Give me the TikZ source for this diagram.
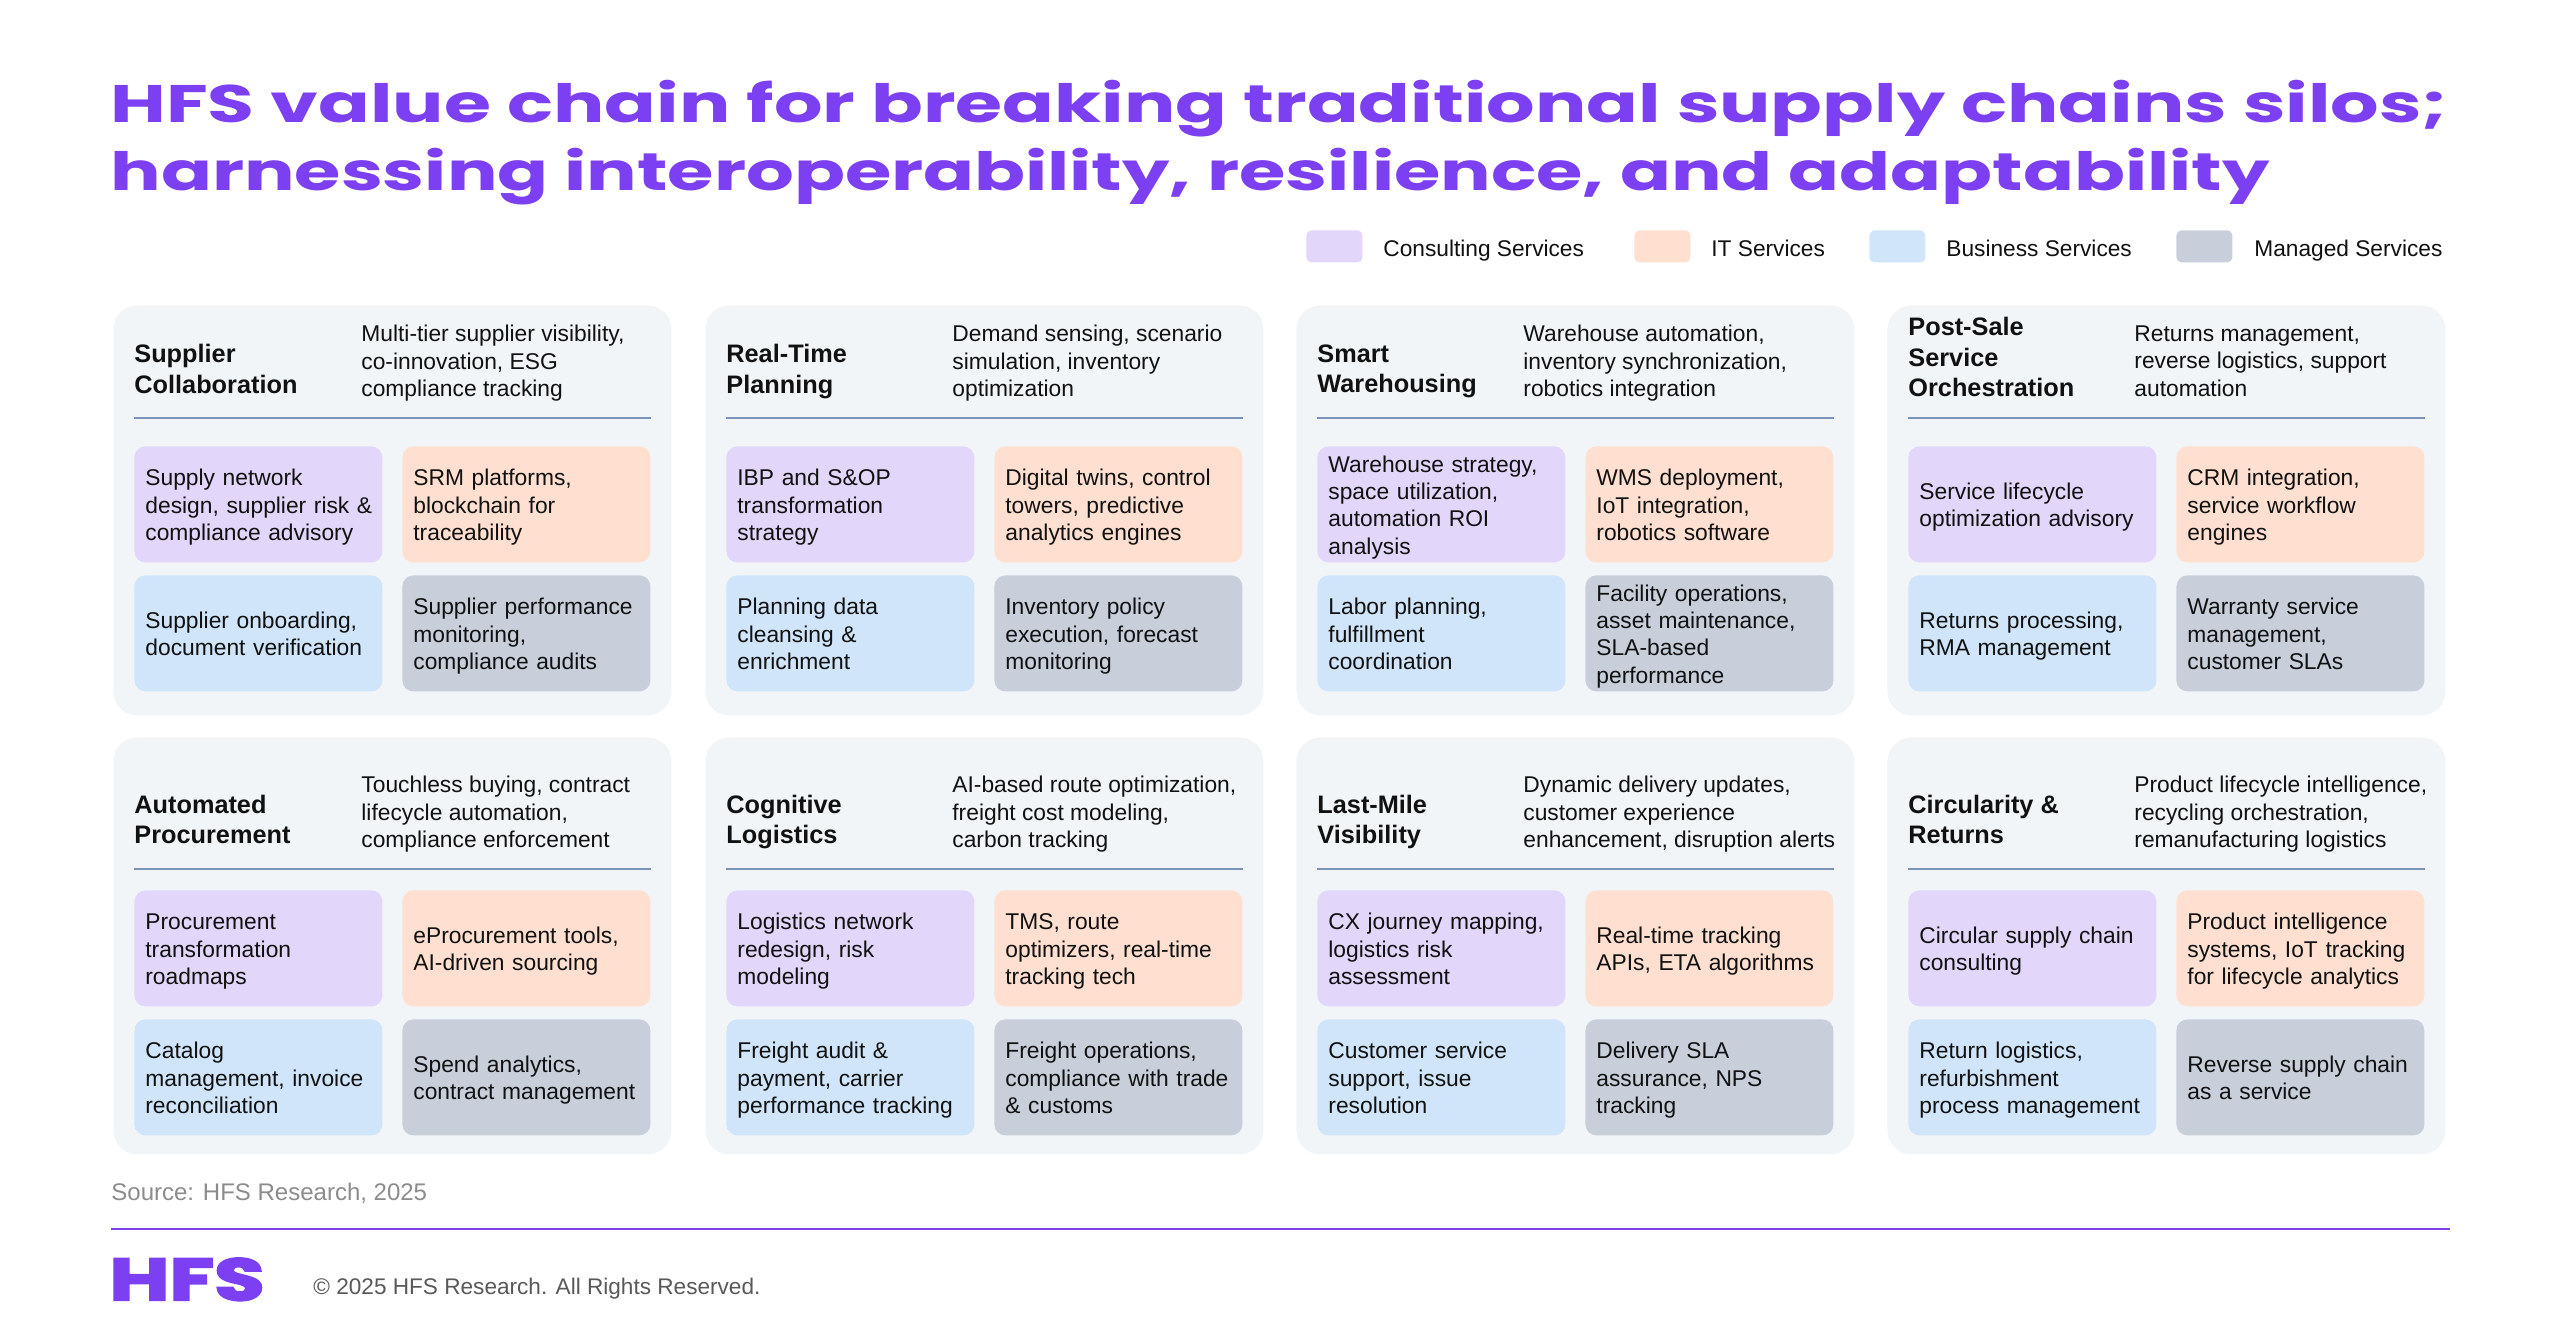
\documentclass[tikz,border=0pt]{standalone}
\usepackage{fontspec}
\setmainfont{Liberation Sans}
\newfontfamily\titlefonta[FakeStretch=1.444]{Poppins}
\newfontfamily\titlefontb[FakeStretch=1.4225]{Poppins}
\newfontfamily\logofont[FakeStretch=1.4,FakeBold=4]{Poppins}
\definecolor{hfspurple}{HTML}{7C3FF2}
\definecolor{cardbg}{HTML}{F2F5F8}
\definecolor{consult}{HTML}{E2D6FA}
\definecolor{itserv}{HTML}{FFDFD0}
\definecolor{bizserv}{HTML}{D0E5FA}
\definecolor{mgdserv}{HTML}{C8CFDB}
\definecolor{sepline}{HTML}{7A93B8}
\definecolor{inktext}{HTML}{111111}
\tikzset{
  cardpanel/.style={anchor=north west,fill=cardbg,rounded corners=12pt,minimum width=279pt,inner sep=0pt},
  svcbox/.style={anchor=north west,rounded corners=5.5pt,minimum width=124pt,minimum height=58pt,
    text width=113pt,inner xsep=5.5pt,inner ysep=0pt,align=left,text=inktext,
    font=\fontsize{11.4}{13.7}\selectfont,
    execute at begin node={\rule{0pt}{11.15pt}},execute at end node={\rule[-2.45pt]{0pt}{2.45pt}}},
  cardtitle/.style={anchor=west,inner sep=0pt,align=left,text=inktext,font=\fontsize{12.65}{15.25}\selectfont\bfseries,
    execute at begin node={\rule{0pt}{12pt}},execute at end node={\rule[-3.2pt]{0pt}{3.2pt}}},
  carddesc/.style={anchor=west,inner sep=0pt,align=left,text=inktext,font=\fontsize{11.4}{13.7}\selectfont,
    execute at begin node={\rule{0pt}{11.15pt}},execute at end node={\rule[-2.45pt]{0pt}{2.45pt}}},
  sepstroke/.style={draw=sepline,line width=.7pt},
  legendswatch/.style={anchor=north west,rounded corners=2.5pt,minimum width=28pt,minimum height=16pt,inner sep=0pt},
  legendtext/.style={anchor=base west,inner sep=0pt,text=inktext,font=\fontsize{11.35}{13.6}\selectfont},
  titleline/.style={anchor=base west,inner sep=0pt,text=hfspurple},
}
\newcommand{\rowone}{\def\ctop{305}\def\cheight{205pt}\def\liney{418}\def\descy{363.5}\def\boxa{446}\def\boxb{575}}
\newcommand{\rowtwo}{\def\ctop{737}\def\cheight{208.5pt}\def\liney{869}\def\descy{814.5}\def\boxa{890}\def\boxb{1019}}
% id, x, title y, title, desc x, desc
\newcommand{\hfshead}[6]{%
  \node[cardpanel,minimum height=\cheight] (#1-card) at (#2,\ctop) {};
  \begin{scope}[shift={(#2,0)}]
    \coordinate (#1-l) at (21,\liney);
    \coordinate (#1-r) at (538,\liney);
    \draw[sepstroke] (#1-l) -- (#1-r);
    \node[cardtitle] (#1-title) at (21,#3) {#4};
    \node[carddesc] (#1-desc) at (#5,\descy) {#6};
  \end{scope}}
% id, x, four boxes
\newcommand{\hfsboxes}[6]{%
  \begin{scope}[shift={(#2,0)}]
    \node[svcbox,fill=consult] (#1-a) at (21,\boxa) {#3};
    \node[svcbox,fill=itserv] (#1-b) at (289,\boxa) {#4};
    \node[svcbox,fill=bizserv] (#1-c) at (21,\boxb) {#5};
    \node[svcbox,fill=mgdserv] (#1-d) at (289,\boxb) {#6};
  \end{scope}}
\begin{document}
\begin{tikzpicture}[x=0.5pt,y=-0.5pt]
\useasboundingbox[fill=white] (0,0) rectangle (2560,1337);
\node[titleline,font=\fontsize{26.4}{32}\titlefonta\bfseries] (t1) at (110,123) {HFS value chain for breaking traditional supply chains silos;};
\node[titleline,font=\fontsize{26.4}{32}\titlefontb\bfseries] (t2) at (110,191) {harnessing interoperability, resilience, and adaptability};
% legend
\node[legendswatch,fill=consult] (l1) at (1306,230) {};
\node[legendtext] (lt1) at (1383,256.5) {Consulting Services};
\node[legendswatch,fill=itserv] (l2) at (1634,230) {};
\node[legendtext] (lt2) at (1711,256.5) {IT Services};
\node[legendswatch,fill=bizserv] (l3) at (1869,230) {};
\node[legendtext] (lt3) at (1946,256.5) {Business Services};
\node[legendswatch,fill=mgdserv] (l4) at (2176,230) {};
\node[legendtext] (lt4) at (2254,256.5) {Managed Services};
% row 1
\rowone
\hfshead{c1}{113}{372}{Supplier\\Collaboration}{248}{Multi-tier supplier visibility,\\co-innovation, ESG\\compliance tracking}
\hfsboxes{c1}{113}{Supply network\\\mbox{design, supplier risk \&}\\compliance advisory}{SRM platforms,\\blockchain for\\traceability}{Supplier onboarding,\\document verification}{Supplier performance\\monitoring,\\compliance audits}
\hfshead{c2}{705}{372}{Real-Time\\Planning}{247}{Demand sensing, scenario\\simulation, inventory\\optimization}
\hfsboxes{c2}{705}{IBP and S\&OP\\transformation\\strategy}{Digital twins, control\\towers, predictive\\analytics engines}{Planning data\\cleansing \&\\enrichment}{Inventory policy\\execution, forecast\\monitoring}
\hfshead{c3}{1296}{372}{Smart\\Warehousing}{227}{Warehouse automation,\\inventory synchronization,\\robotics integration}
\hfsboxes{c3}{1296}{Warehouse strategy,\\space utilization,\\automation ROI\\analysis}{WMS deployment,\\IoT integration,\\robotics software}{Labor planning,\\fulfillment\\coordination}{Facility operations,\\asset maintenance,\\SLA-based\\performance}
\hfshead{c4}{1887}{360.5}{Post-Sale\\Service\\Orchestration}{247}{Returns management,\\reverse logistics, support\\automation}
\hfsboxes{c4}{1887}{Service lifecycle\\optimization advisory}{CRM integration,\\service workflow\\engines}{Returns processing,\\RMA management}{Warranty service\\management,\\customer SLAs}
% row 2
\rowtwo
\hfshead{c5}{113}{822.5}{Automated\\Procurement}{248}{Touchless buying, contract\\lifecycle automation,\\compliance enforcement}
\hfsboxes{c5}{113}{Procurement\\transformation\\roadmaps}{eProcurement tools,\\AI-driven sourcing}{Catalog\\management, invoice\\reconciliation}{Spend analytics,\\contract management}
\hfshead{c6}{705}{822.5}{Cognitive\\Logistics}{247}{AI-based route optimization,\\freight cost modeling,\\carbon tracking}
\hfsboxes{c6}{705}{Logistics network\\redesign, risk\\modeling}{TMS, route\\optimizers, real-time\\tracking tech}{Freight audit \&\\payment, carrier\\performance tracking}{Freight operations,\\compliance with trade\\\& customs}
\hfshead{c7}{1296}{822.5}{Last-Mile\\Visibility}{227}{Dynamic delivery updates,\\customer experience\\enhancement, disruption alerts}
\hfsboxes{c7}{1296}{CX journey mapping,\\logistics risk\\assessment}{Real-time tracking\\APIs, ETA algorithms}{Customer service\\support, issue\\resolution}{Delivery SLA\\assurance, NPS\\tracking}
\hfshead{c8}{1887}{822.5}{Circularity \&\\Returns}{247}{Product lifecycle intelligence,\\recycling orchestration,\\remanufacturing logistics}
\hfsboxes{c8}{1887}{Circular supply chain\\consulting}{Product intelligence\\systems, IoT tracking\\for lifecycle analytics}{Return logistics,\\refurbishment\\process management}{Reverse supply chain\\as a service}
% footer
\node[anchor=base west,inner sep=0pt,text=black!45,font=\fontsize{12}{14}\selectfont] (src) at (111,1200) {Source: HFS Research, 2025};
\coordinate (fl) at (111,1229);
\coordinate (fr) at (2450,1229);
\draw[draw=hfspurple,line width=1pt] (fl) -- (fr);
\node[anchor=base west,inner sep=0pt,text=hfspurple,font=\fontsize{29.3}{34}\logofont\bfseries] (logo) at (109,1300) {HFS};
\node[anchor=base west,inner sep=0pt,text=black!65,font=\fontsize{11.3}{14}\selectfont] (copy) at (313,1294) {© 2025 HFS Research. All Rights Reserved.};
\end{tikzpicture}
\end{document}
